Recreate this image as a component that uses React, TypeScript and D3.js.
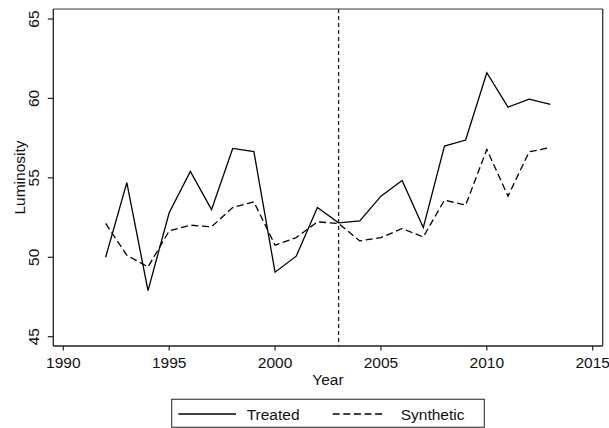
import React from "react";
import * as d3 from "d3";

// Annual luminosity for the treated unit and its synthetic control
const years = [1992, 1993, 1994, 1995, 1996, 1997, 1998, 1999, 2000, 2001, 2002, 2003, 2004, 2005, 2006, 2007, 2008, 2009, 2010, 2011, 2012, 2013];
const treated = [50.0, 54.7, 47.9, 52.8, 55.4, 53.0, 56.85, 56.65, 49.06, 50.07, 53.13, 52.17, 52.29, 53.85, 54.84, 51.87, 57.0, 57.38, 61.62, 59.45, 59.96, 59.62];
const synthetic = [52.13, 50.13, 49.39, 51.66, 52.02, 51.92, 53.13, 53.49, 50.76, 51.24, 52.23, 52.13, 51.03, 51.24, 51.81, 51.28, 53.6, 53.28, 56.79, 53.85, 56.64, 56.91];
const treatmentYear = 2003;
const xTicks = [1990, 1995, 2000, 2005, 2010, 2015];
const yTicks = [45, 50, 55, 60, 65];
const legendLabels = ["Treated", "Synthetic"];

const FONT = "'Liberation Sans', Arial, Helvetica, sans-serif";
const FS = 15.5;

export default function App() {
  const W = 609;
  const H = 428;
  const x = d3.scaleLinear().domain([1990, 2015]).range([63.3, 592.7]);
  const y = d3.scaleLinear().domain([45, 65]).range([336.7, 19]);

  const frameL = 53.3;
  const frameR = 602.7;
  const frameT = 9;
  const frameB = 346;

  const line = d3
    .line<number>()
    .x((_, i) => x(years[i]))
    .y((d) => y(d));

  const legY = 414;

  return (
    <svg
      width={W}
      height={H}
      style={{ position: "absolute", left: 0, top: 0, background: "#fff" }}
      fontFamily={FONT}
    >
      <rect x={0} y={0} width={W} height={H} fill="#fff" />

      {/* plot frame */}
      <line x1={frameL} x2={frameR} y1={frameT} y2={frameT} stroke="#7a7a7a" strokeWidth={1.3} />
      <line x1={frameR} x2={frameR} y1={frameT} y2={frameB} stroke="#333" strokeWidth={1.3} />
      <line x1={frameL} x2={frameL} y1={frameT} y2={frameB} stroke="#222" strokeWidth={1.3} />
      <line x1={frameL} x2={frameR} y1={frameB} y2={frameB} stroke="#222" strokeWidth={1.3} />

      {/* y axis ticks and labels */}
      {yTicks.map((t) => (
        <g key={"y" + t}>
          <line x1={frameL - 5.5} x2={frameL} y1={y(t)} y2={y(t)} stroke="#222" strokeWidth={1.2} />
          <text
            transform={`translate(39.3,${y(t)}) rotate(-90)`}
            textAnchor="middle"
            fontSize={FS}
            fill="#111"
          >
            {t}
          </text>
        </g>
      ))}

      {/* x axis ticks and labels */}
      {xTicks.map((t) => (
        <g key={"x" + t}>
          <line x1={x(t)} x2={x(t)} y1={frameB} y2={frameB + 4.5} stroke="#222" strokeWidth={1.2} />
          <text x={x(t)} y={368.3} textAnchor="middle" fontSize={FS} fill="#111">
            {t}
          </text>
        </g>
      ))}

      <text x={(frameL + frameR) / 2} y={385} textAnchor="middle" fontSize={FS} fill="#111">
        Year
      </text>
      <text
        transform={`translate(24.5,${(frameT + frameB) / 2}) rotate(-90)`}
        textAnchor="middle"
        fontSize={FS}
        fill="#111"
      >
        Luminosity
      </text>

      {/* treatment year marker */}
      <line
        x1={x(treatmentYear)}
        x2={x(treatmentYear)}
        y1={frameT}
        y2={frameB}
        stroke="#222"
        strokeWidth={1.3}
        strokeDasharray="4,3"
      />

      {/* series */}
      <path d={line(treated) ?? ""} fill="none" stroke="#000" strokeWidth={1.3} strokeLinejoin="miter" />
      <path
        d={line(synthetic) ?? ""}
        fill="none"
        stroke="#000"
        strokeWidth={1.3}
        strokeDasharray="7,3.6"
      />

      {/* legend */}
      <rect x={171.7} y={399.3} width={312.6} height={28} fill="#fff" stroke="#444" strokeWidth={1.2} />
      <line x1={178.3} x2={236} y1={legY} y2={legY} stroke="#000" strokeWidth={1.3} />
      <text x={246.7} y={420} fontSize={FS} fill="#111">
        {legendLabels[0]}
      </text>
      <line x1={332.7} x2={382.3} y1={legY} y2={legY} stroke="#000" strokeWidth={1.3} strokeDasharray="7,3.6" />
      <text x={400.7} y={420} fontSize={FS} fill="#111">
        {legendLabels[1]}
      </text>
    </svg>
  );
}
